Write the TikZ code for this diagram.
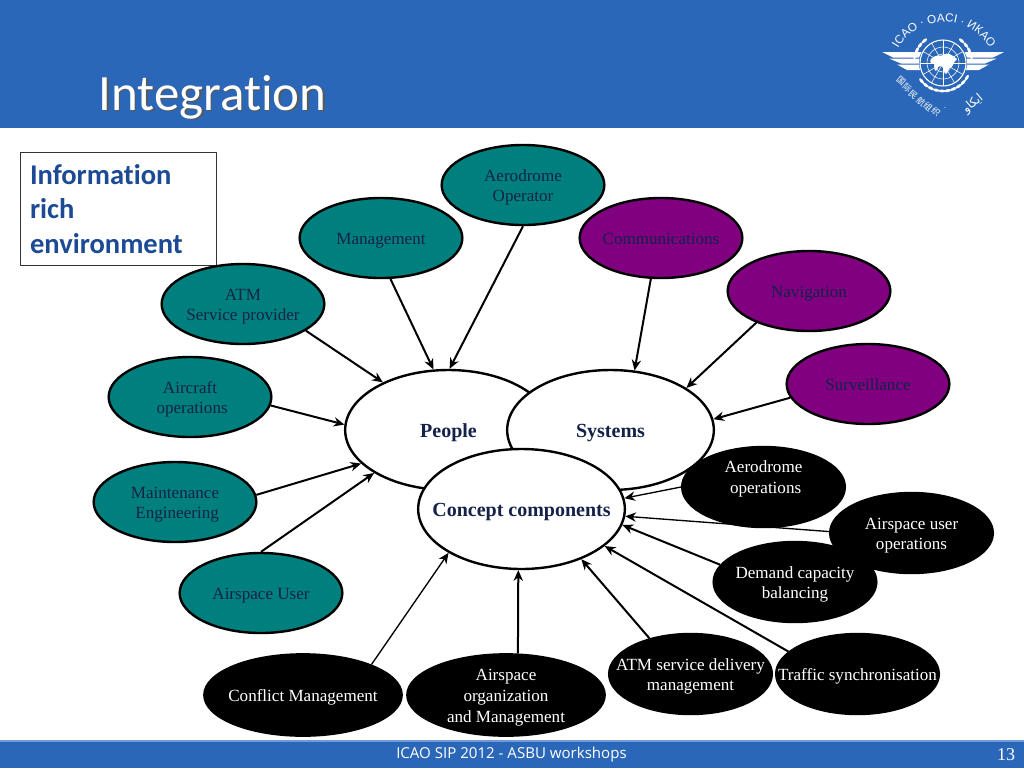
\documentclass[tikz,border=0pt]{standalone}
\usepackage{fontspec}
\setmainfont{Liberation Serif}
\newfontfamily\bodyfont[Ligatures=NoCommon]{Carlito}
\newfontfamily\footfont{Open Sans}
\newfontfamily\capfont{Liberation Sans}
\newfontfamily\cjk{Noto Sans CJK SC}
\newfontfamily\arabicfont[Script=Arabic]{DejaVu Sans}
\TeXXeTstate=1
\usetikzlibrary{positioning, arrows.meta, shapes.geometric, decorations.text}
\definecolor{barblue}{HTML}{2B67B8}
\definecolor{barline}{HTML}{6F9BD8}
\definecolor{boxink}{HTML}{1C4A94}
\definecolor{figteal}{HTML}{007F7F}
\definecolor{figpurple}{HTML}{800080}
\definecolor{fignavy}{HTML}{14224A}

\begin{document}
\begin{tikzpicture}[
  x=0.75pt, y=-0.75pt,
  line cap=butt, line join=round,
  >={Stealth[length=8pt,width=7pt]},
  base/.style = {ellipse, draw=black, line width=1.8pt, inner xsep=-40pt, inner ysep=-25pt,
                 align=center, anchor=center, font=\fontsize{12.8}{15.4}\selectfont,
                 execute at begin node={\rule[-3pt]{0pt}{16pt}}},
  twoline/.style = {execute at begin node={\rule{0pt}{28pt}}},
  threeline/.style = {execute at begin node={\rule{0pt}{43.5pt}}},
  tealnd/.style = {base, fill=figteal, text=fignavy, minimum width=122pt, minimum height=60pt},
  purplend/.style = {base, fill=figpurple, text=fignavy, minimum width=122pt, minimum height=60pt},
  blacknd/.style = {base, fill=black, text=white, minimum width=122pt, minimum height=60pt},
  widend/.style = {blacknd, minimum width=148pt, minimum height=61pt},
  corend/.style = {base, fill=white, text=fignavy, minimum width=155pt, minimum height=90pt,
                   font=\fontsize{15}{18}\selectfont\bfseries,
                   execute at begin node={\rule{0pt}{15pt}}},
  link/.style = {->, line width=1.5pt},
  thinlink/.style = {->, line width=1pt},
  wing/.style = {fill=white, draw=none},
  leaf/.style = {fill=white, draw=none, ellipse, inner sep=0pt, minimum width=5pt, minimum height=2.2pt}
]
\useasboundingbox (0,0) rectangle (1024,768);

% bars
\fill[barblue] (0,0) rectangle (1024,128);
\fill[barblue] (0,741) rectangle (1024,768);
\draw[barline, line width=0.8pt] (0,741) -- (1024,741);

\node[font=\bodyfont\fontsize{38.2}{41}\selectfont, text=black!65] (titleback) at (214,98.4) {Integration};
\node[font=\bodyfont\fontsize{38.2}{41}\selectfont, text=white] (title) at (212.5,97) {Integration};
\node[font=\footfont\fontsize{11.3}{12}\selectfont, text=white] (foot) at (511.5,755) {ICAO SIP 2012 - ASBU workshops};
\node[font=\fontsize{13.5}{14}\selectfont, text=white] (pagenum) at (1006,755) {13};

% box
\node[draw=black!80, line width=0.7pt, fill=white, minimum width=147pt, minimum height=84.5pt,
      inner sep=0pt, text width=132pt, align=left, text=boxink,
      font=\bodyfont\bfseries\fontsize{21.4}{26}\selectfont] (infobox) at (118,209)
      {Information\\rich\\environment};

% three core ellipses
\node[corend] (people) at (448.5,430) {People};
\node[corend] (systems) at (610.5,430) {Systems};
\node[corend] (concept) at (521.5,509) {Concept components};

% people side
\node[tealnd, twoline] (aeroop) at (523,185) {Aerodrome\\Operator};
\node[tealnd] (mgmt) at (381,238) {Management};
\node[tealnd, twoline] (atmsp) at (243,304) {ATM\\Service provider};
\node[tealnd, twoline] (aircraft) at (190,397) {Aircraft\\ \ operations};
\node[tealnd, twoline] (maint) at (175,502) {Maintenance\\ \ Engineering};
\node[tealnd] (asuser) at (261,593) {Airspace User};

% systems side
\node[purplend] (comm) at (661,238) {Communications};
\node[purplend] (nav) at (809,291) {Navigation};
\node[purplend] (surv) at (868,384) {Surveillance};

% concept side
\node[blacknd, threeline] (aeroops) at (763.5,487) {Aerodrome\\ \ operations\\ \ };
\node[blacknd, twoline] (asops) at (911.5,533) {Airspace user\\operations};
\node[blacknd, twoline] (demand) at (795,582) {Demand capacity\\balancing};
\node[blacknd, twoline] (atmsd) at (690.5,674) {ATM service delivery\\management};
\node[blacknd] (traffic) at (857.5,674) {Traffic synchronisation};
\node[widend, threeline] (asorg) at (506,695) {Airspace\\organization\\and Management};
\node[widend] (conflict) at (303,695) {Conflict Management};

% arrows
\draw[link] (mgmt.283) -- (people.104);
\draw[link] (aeroop.south) -- (people.89);
\draw[link] (atmsp.337) -- (people.144);
\draw[link] (aircraft.354) -- (people.177);
\draw[link] (maint.5) -- (people.201);
\draw[link] (asuser.north) -- (people.210);
\draw[link] (comm.256) -- (systems.68);
\draw[link] (nav.211) -- (systems.29);
\draw[link] (surv.190) -- (systems.6.5);
\draw[thinlink] (aeroops.west) -- (concept.6.6);
\draw[thinlink] (asops.179) -- (concept.356);
\draw[link] (demand.167) -- (concept.351);
\draw[link] (traffic.162) -- (concept.336);
\draw[link] (atmsd.139) -- (concept.320);
\draw[link] (asorg.74) -- (concept.267);
\draw[thinlink] (conflict.24) -- (concept.211);

% emblem
\begin{scope}[shift={(943,63)}]
  \fill[wing] (-61,-11) -- (-21,-11) -- (-24,-5.5) -- (-50,-5.5) -- cycle;
  \fill[wing] (-54,-4.5) -- (-23,-4.5) -- (-23,0.5) -- (-42,0.5) -- cycle;
  \fill[wing] (-46,1.5) -- (-23,1.5) -- (-22,7) -- (-36,7) -- cycle;
  \fill[wing] (61,-11) -- (21,-11) -- (24,-5.5) -- (50,-5.5) -- cycle;
  \fill[wing] (54,-4.5) -- (23,-4.5) -- (23,0.5) -- (42,0.5) -- cycle;
  \fill[wing] (46,1.5) -- (23,1.5) -- (22,7) -- (36,7) -- cycle;
  \fill[barblue] (0,0) circle (24);
  \draw[white, line width=0.8pt] (0,0) circle (23);
  \draw[white, line width=0.4pt] (0,0) circle (16) (0,0) circle (9);
  \foreach \ang in {0,30,...,330} \draw[white, line width=0.4pt] (0,0) -- (\ang:23);
  \fill[white] (-12,-4) .. controls (-6,-10) and (-2,-6) .. (0,-8)
    .. controls (5,-12) and (10,-7) .. (14,-4)
    .. controls (9,0) and (11,5) .. (6,5)
    .. controls (5,12) and (1,13) .. (1,7)
    .. controls (-1,1) and (-5,2) .. (-6,7)
    .. controls (-8,10) and (-10,4) .. (-8,1) .. controls (-12,1) and (-14,-1) .. (-12,-4);
  \foreach \ang in {-130,-142,...,-166} \node[leaf, rotate=-\ang-90] (lf\ang) at (\ang:29) {};
  \foreach \ang in {-50,-38,...,-14} \node[leaf, rotate=-\ang-90] (rf\ang) at (\ang:29) {};
  \foreach \ang in {140,128,...,30} \node[leaf, rotate=-\ang-90] (bf\ang) at (\ang:28) {};
  \path[postaction={decorate, decoration={text along path, text align=center,
        text={|\capfont\fontsize{8.8}{10}\selectfont\color{white}|ICAO · OACI · ИКАО}}}]
    (1,12) ++(-150:53) arc[start angle=-150, end angle=-30, radius=53];
  \foreach \ch/\cx/\cy in {国/-42/18, 际/-36/25, 民/-30/32, 航/-22/39, 组/-15/44, 织/-7/49}
    \node[font=\cjk\fontsize{6.4}{7}\selectfont, text=white, inner sep=0pt, rotate=-40] (ch\cx) at (\cx,\cy) {\ch};
  \node[font=\capfont\fontsize{6}{6}\selectfont, text=white, inner sep=0pt] (emdot) at (2,45) {.};
  \node[font=\arabicfont\fontsize{9}{10}\selectfont, text=white, inner sep=0pt, rotate=40] (emarab) at (30,41) {\beginR ايكاو\endR};
\end{scope}

\end{tikzpicture}
\end{document}
